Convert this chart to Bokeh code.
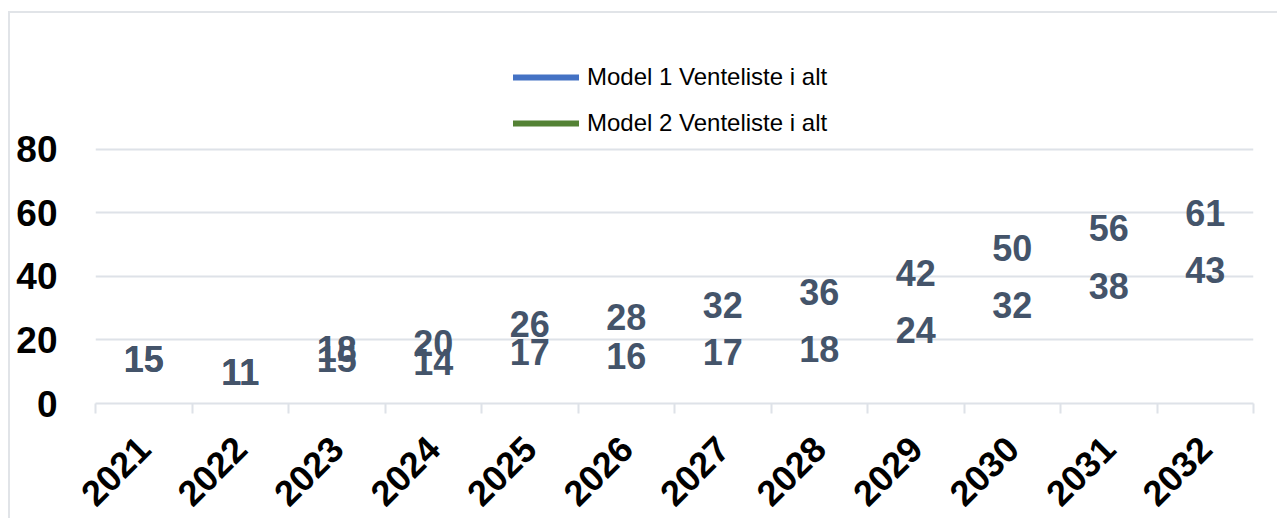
from bokeh.plotting import figure
from bokeh.models import FixedTicker, Legend, LegendItem, ColumnDataSource, Range1d
from bokeh.core.properties import value
from bokeh.embed import file_html
from bokeh.resources import INLINE
import math

years = ["2021", "2022", "2023", "2024", "2025", "2026", "2027", "2028", "2029", "2030", "2031", "2032"]
model1 = [15, 11, 18, 20, 26, 28, 32, 36, 42, 50, 56, 61]
model2 = [15, 11, 15, 14, 17, 16, 17, 18, 24, 32, 38, 43]
series_names = ["Model 1 Venteliste i alt", "Model 2 Venteliste i alt"]
series_colors = ["#4472C4", "#548235"]
y_ticks = [0, 20, 40, 60, 80]

FONT = "Liberation Sans"
LABEL_COLOR = "#44546A"
GRID = "#DEE2E8"

n = len(years)
centers = [i + 0.5 for i in range(n)]
bounds = list(range(n + 1))

p = figure(width=1269, height=507, output_backend="svg", toolbar_location=None,
           x_range=Range1d(0, n), y_range=Range1d(0, 114.2),
           min_border_left=85, min_border_right=26, min_border_top=27, min_border_bottom=116)
p.styles = {"border-left": "2px solid #E1E4E8", "border-top": "2px solid #E1E4E8",
            "margin-left": "8px", "margin-top": "11px"}
p.outline_line_color = None
p.background_fill_color = "white"
p.border_fill_color = "white"

# x axis
xa = p.xaxis[0]
xa.ticker = FixedTicker(ticks=centers, minor_ticks=bounds)
xa.major_label_overrides = {c: y for c, y in zip(centers, years)}
xa.major_tick_line_color = None
xa.minor_tick_line_color = GRID
xa.minor_tick_line_width = 2
xa.minor_tick_out = 10
xa.minor_tick_in = 0
xa.axis_line_color = GRID
xa.axis_line_width = 2
xa.major_label_orientation = math.pi / 4
xa.major_label_text_font = FONT
xa.major_label_text_font_style = "bold"
xa.major_label_text_font_size = "36px"
xa.major_label_text_color = "black"
xa.major_label_standoff = 29

# y axis
ya = p.yaxis[0]
ya.ticker = FixedTicker(ticks=y_ticks)
ya.axis_line_color = None
ya.major_tick_line_color = None
ya.minor_tick_line_color = None
ya.major_label_text_font = FONT
ya.major_label_text_font_style = "bold"
ya.major_label_text_font_size = "37px"
ya.major_label_text_color = "black"
ya.major_label_standoff = 32

p.xgrid.grid_line_color = None
p.ygrid.grid_line_color = GRID
p.ygrid.grid_line_width = 2

# data labels
for vals in (model1, model2):
    src = ColumnDataSource(dict(x=centers, y=vals, t=[str(v) for v in vals]))
    p.text(x="x", y="y", text="t", source=src, text_align="center", text_baseline="middle",
           text_font=value(FONT), text_font_style="bold", text_font_size="36px",
           text_color=LABEL_COLOR, y_offset=3)

# legend (the series lines themselves are not visible in the chart)
items = []
for name, col in zip(series_names, series_colors):
    r = p.line(x=[centers[0]], y=[float("nan")], line_color=col, line_width=6, line_cap="round")
    items.append(LegendItem(label=name, renderers=[r]))

legend = Legend(items=items, location=(418, 266), orientation="vertical",
                glyph_width=66, glyph_height=20, label_standoff=8, spacing=18,
                padding=0, margin=0, border_line_color=None, background_fill_alpha=0,
                label_text_font=FONT, label_text_font_size="24px", label_text_color="black")
p.add_layout(legend, "center")

open("out.html", "w").write(file_html(p, INLINE))
